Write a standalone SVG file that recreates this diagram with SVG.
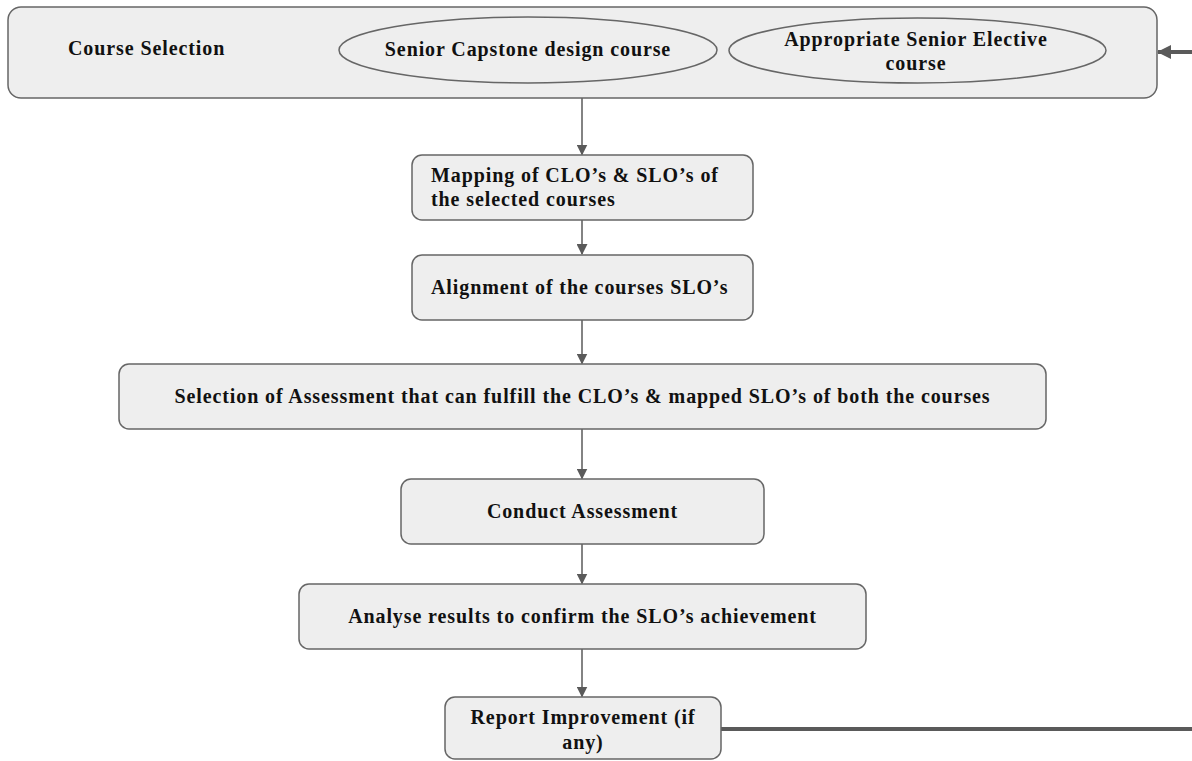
<svg xmlns="http://www.w3.org/2000/svg" width="1192" height="761" viewBox="0 0 1192 761">
<defs>
<style>
.box{fill:#eeeeee;stroke:#666666;stroke-width:1.5}
.t{font-family:"Liberation Serif","Times New Roman",serif;font-weight:bold;font-size:20px;letter-spacing:0.9px;fill:#111111}
.c{text-anchor:middle}
.ln{stroke:#5a5a5a;stroke-width:1.5;fill:none}
.thick{stroke:#5a5a5a;stroke-width:4;fill:none}
</style>
<marker id="ah" markerWidth="11" markerHeight="11" refX="10" refY="5.5" orient="auto" markerUnits="userSpaceOnUse">
<path d="M0,0 L11,5.5 L0,11 z" fill="#5a5a5a"/>
</marker>
<marker id="ahb" markerWidth="14" markerHeight="14" refX="13" refY="7" orient="auto" markerUnits="userSpaceOnUse">
<path d="M0,0 L14,7 L0,14 z" fill="#5a5a5a"/>
</marker>
</defs>
<rect width="1192" height="761" fill="#ffffff"/>
<g id="connectors">
<line class="ln" x1="582" y1="98" x2="582" y2="154.5" marker-end="url(#ah)"/>
<line class="ln" x1="582" y1="220" x2="582" y2="254" marker-end="url(#ah)"/>
<line class="ln" x1="582" y1="320" x2="582" y2="363.5" marker-end="url(#ah)"/>
<line class="ln" x1="582" y1="429" x2="582" y2="478.5" marker-end="url(#ah)"/>
<line class="ln" x1="582" y1="544" x2="582" y2="583.5" marker-end="url(#ah)"/>
<line class="ln" x1="582" y1="649" x2="582" y2="696.5" marker-end="url(#ah)"/>
<line class="thick" x1="721" y1="729" x2="1192" y2="729"/>
<line class="thick" x1="1192" y1="52" x2="1158" y2="52" marker-end="url(#ahb)"/>
</g>
<g id="course-selection">
<rect class="box" x="8" y="7" width="1149" height="91" rx="13"/>
<text class="t" x="68" y="55">Course Selection</text>
</g>
<g id="senior-capstone">
<ellipse class="box" cx="528" cy="50" rx="189" ry="33"/>
<text class="t c" x="528" y="56">Senior Capstone design course</text>
</g>
<g id="senior-elective">
<ellipse class="box" cx="917.5" cy="50.5" rx="188.5" ry="32.5"/>
<text class="t c" x="916" y="46">Appropriate Senior Elective</text>
<text class="t c" x="916" y="70">course</text>
</g>
<g id="mapping">
<rect class="box" x="412" y="155" width="341" height="65" rx="10"/>
<text class="t" x="431" y="182">Mapping of CLO’s &amp; SLO’s of</text>
<text class="t" x="431" y="206">the selected courses</text>
</g>
<g id="alignment">
<rect class="box" x="412" y="255" width="341" height="65" rx="10"/>
<text class="t" x="431" y="294">Alignment of the courses SLO’s</text>
</g>
<g id="selection-assessment">
<rect class="box" x="119" y="364" width="927" height="65" rx="10"/>
<text class="t c" x="582.5" y="403">Selection of Assessment that can fulfill the CLO’s &amp; mapped SLO’s of both the courses</text>
</g>
<g id="conduct">
<rect class="box" x="401" y="479" width="363" height="65" rx="10"/>
<text class="t c" x="582.5" y="518">Conduct Assessment</text>
</g>
<g id="analyse">
<rect class="box" x="299" y="584" width="567" height="65" rx="10"/>
<text class="t c" x="582.5" y="623">Analyse results to confirm the SLO’s achievement</text>
</g>
<g id="report">
<rect class="box" x="445" y="697" width="276" height="62" rx="10"/>
<text class="t c" x="583" y="724">Report Improvement (if</text>
<text class="t c" x="583" y="749">any)</text>
</g>
</svg>
